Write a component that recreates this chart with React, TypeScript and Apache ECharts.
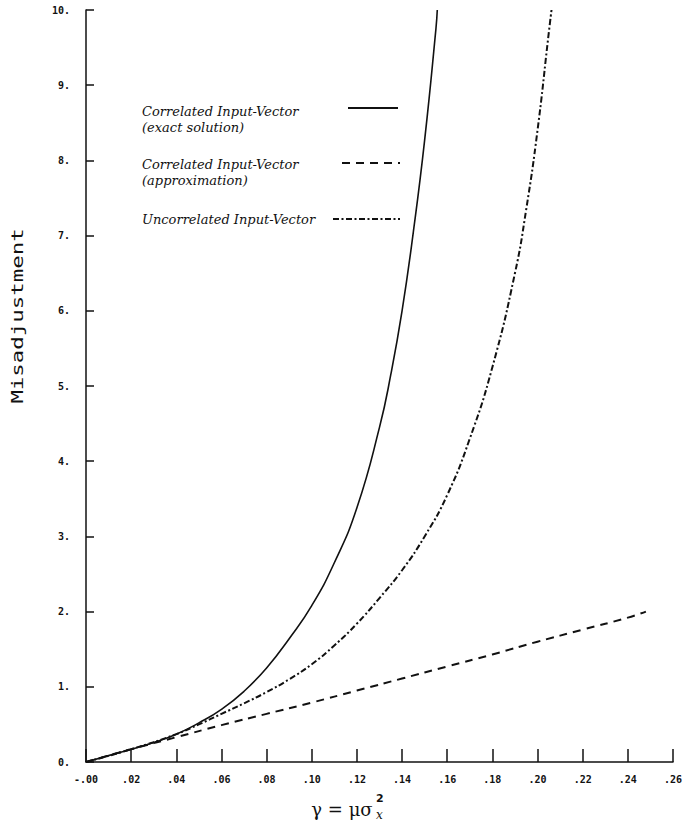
import React, { useEffect, useRef } from "react";
import * as echarts from "echarts";

// gamma = mu * sigma_x^2 values and misadjustment for each curve
const exactX = [0, 0.01, 0.02, 0.03, 0.04, 0.05, 0.06, 0.07, 0.08, 0.09, 0.1, 0.11, 0.12, 0.13, 0.135, 0.14, 0.145, 0.15, 0.155, 0.1556];
const exactY = [0, 0.085, 0.17, 0.26, 0.37, 0.52, 0.7, 0.94, 1.25, 1.64, 2.08, 2.65, 3.38, 4.45, 5.15, 6.0, 7.05, 8.27, 9.75, 10.0];

const approxX = [0, 0.02, 0.04, 0.06, 0.08, 0.1, 0.12, 0.14, 0.16, 0.18, 0.2, 0.22, 0.24, 0.248];
const approxY = [0, 0.17, 0.33, 0.49, 0.64, 0.79, 0.95, 1.11, 1.27, 1.43, 1.6, 1.76, 1.92, 2.0];

const uncorrX = [0, 0.02, 0.04, 0.05, 0.06, 0.07, 0.08, 0.09, 0.1, 0.11, 0.12, 0.13, 0.14, 0.15, 0.16, 0.17, 0.18, 0.19, 0.195, 0.2, 0.205, 0.2062];
const uncorrY = [0, 0.17, 0.37, 0.5, 0.64, 0.78, 0.93, 1.1, 1.3, 1.55, 1.84, 2.18, 2.55, 3.0, 3.55, 4.3, 5.25, 6.5, 7.35, 8.4, 9.7, 10.0];

const legendLabels = [
  "Correlated Input-Vector\n(exact solution)",
  "Correlated Input-Vector\n(approximation)",
  "Uncorrelated Input-Vector",
];

const pairs = (xs: number[], ys: number[]) => xs.map((x, i) => [x, ys[i]]);

const INK = "#111";
const tickFont = { fontFamily: "DejaVu Sans Mono", fontWeight: "bold" as const, fontSize: 10, color: INK };
const legendFont = { fontFamily: "DejaVu Serif", fontStyle: "italic" as const, fontSize: 13, fill: INK, lineHeight: 16 };

export default function App() {
  const ref = useRef<HTMLDivElement>(null);

  useEffect(() => {
    if (!ref.current) return;
    const chart = echarts.init(ref.current, null, { renderer: "svg" });

    const lineBase = { type: "line" as const, showSymbol: false, symbol: "none", smooth: 0.5 };

    chart.setOption({
      animation: false,
      backgroundColor: "#fff",
      grid: { left: 86, right: 10, top: 10, bottom: 68 },
      xAxis: {
        type: "value",
        min: 0,
        max: 0.26,
        interval: 0.02,
        axisLine: { show: true, lineStyle: { color: INK, width: 1.5 } },
        axisTick: { show: true, inside: true, length: 13, lineStyle: { color: INK, width: 1.5 } },
        splitLine: { show: false },
        axisLabel: {
          ...tickFont,
          margin: 12,
          showMaxLabel: true,
          formatter: (v: number) => {
            const n = Math.round(v * 100);
            return n === 0 ? "-.00" : "." + String(n).padStart(2, "0");
          },
        },
      },
      yAxis: {
        type: "value",
        min: 0,
        max: 10,
        interval: 1,
        axisLine: { show: true, lineStyle: { color: INK, width: 1.5 } },
        axisTick: { show: true, inside: true, length: 8, lineStyle: { color: INK, width: 1.5 } },
        splitLine: { show: false },
        axisLabel: { ...tickFont, margin: 16, formatter: (v: number) => `${Math.round(v)}.` },
      },
      series: [
        { ...lineBase, name: legendLabels[0], data: pairs(exactX, exactY), lineStyle: { color: INK, width: 1.6, type: "solid" } },
        { ...lineBase, name: legendLabels[1], data: pairs(approxX, approxY), lineStyle: { color: INK, width: 2, type: [8, 6] } },
        { ...lineBase, name: legendLabels[2], data: pairs(uncorrX, uncorrY), lineStyle: { color: INK, width: 2, type: [6, 2.5, 2, 2.5] } },
      ],
      graphic: [
        // legend block
        { type: "text", left: 142, top: 103, style: { text: legendLabels[0], ...legendFont } },
        { type: "line", shape: { x1: 348, y1: 108, x2: 398, y2: 108 }, style: { stroke: INK, lineWidth: 1.8 } },
        { type: "text", left: 142, top: 156, style: { text: legendLabels[1], ...legendFont } },
        { type: "line", shape: { x1: 342, y1: 163, x2: 400, y2: 163 }, style: { stroke: INK, lineWidth: 2, lineDash: [8, 6] } },
        { type: "text", left: 142, top: 211, style: { text: legendLabels[2], ...legendFont } },
        { type: "line", shape: { x1: 333, y1: 219, x2: 400, y2: 219 }, style: { stroke: INK, lineWidth: 2, lineDash: [6, 2.5, 2, 2.5] } },
        // y axis title
        {
          type: "text",
          x: 18,
          y: 316,
          rotation: Math.PI / 2,
          scaleX: 1.4,
          style: {
            text: "Misadjustment",
            fontFamily: "DejaVu Sans Mono",
            fontSize: 16,
            fill: INK,
            align: "center",
            verticalAlign: "middle",
          },
        },
        // x axis title: gamma = mu sigma_x^2
        {
          type: "text",
          x: 342,
          y: 809,
          style: { text: "γ = μσ", fontFamily: "DejaVu Serif", fontSize: 18, fill: INK, align: "center", verticalAlign: "middle" },
        },
        { type: "text", x: 376, y: 798, style: { text: "2", fontFamily: "DejaVu Sans", fontWeight: "bold", fontSize: 11, fill: INK, align: "left", verticalAlign: "middle" } },
        { type: "text", x: 376, y: 815, style: { text: "x", fontFamily: "DejaVu Serif", fontStyle: "italic", fontSize: 12, fill: INK, align: "left", verticalAlign: "middle" } },
      ],
    });

    return () => chart.dispose();
  }, []);

  return <div ref={ref} style={{ position: "absolute", left: 0, top: 0, width: 685, height: 830 }} />;
}
